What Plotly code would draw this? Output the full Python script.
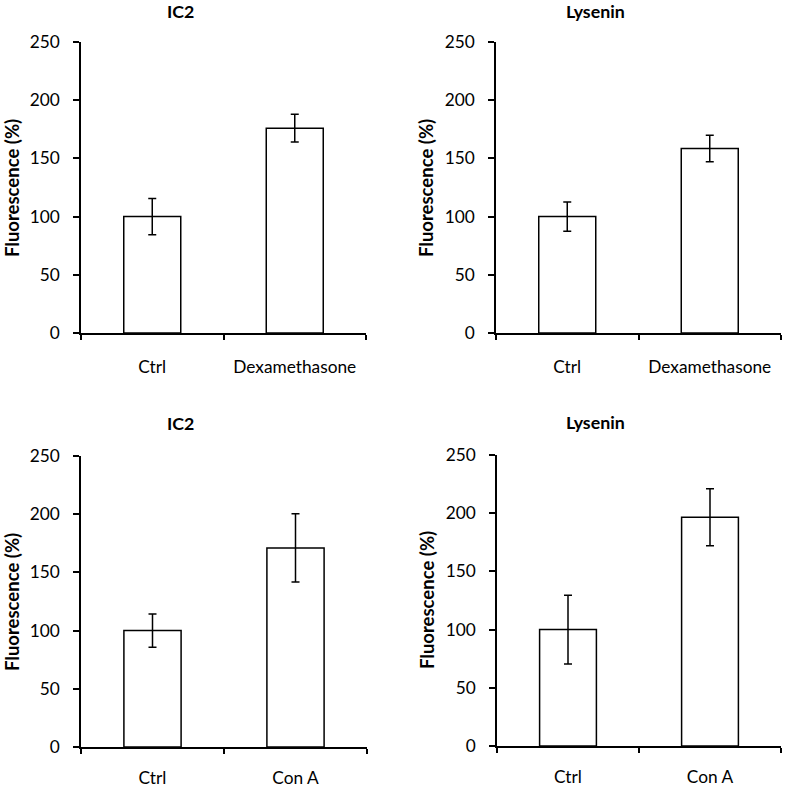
import plotly.graph_objects as go
from plotly.subplots import make_subplots

# ---- data ----
titles = ["IC2", "Lysenin", "IC2", "Lysenin"]
cats_dex = ["Ctrl", "Dexamethasone"]
cats_cona = ["Ctrl", "Con A"]
ic2_dex_mean = [100, 176]
ic2_dex_err = [15.6, 12.0]
lys_dex_mean = [100, 158.5]
lys_dex_err = [12.6, 11.3]
ic2_cona_mean = [100, 171]
ic2_cona_err = [14.3, 29.3]
lys_cona_mean = [100, 196.5]
lys_cona_err = [29.6, 24.4]
y_ticks = [0, 50, 100, 150, 200, 250]
y_title = "Fluorescence (%)"

W, H = 785, 787
FONT = "Lato"
FS = 17.3
FS_TITLE = 17.8
FS_YT = 18.5

panels = [
    (cats_dex, ic2_dex_mean, ic2_dex_err),
    (cats_dex, lys_dex_mean, lys_dex_err),
    (cats_cona, ic2_cona_mean, ic2_cona_err),
    (cats_cona, lys_cona_mean, lys_cona_err),
]

fig = make_subplots(rows=2, cols=2)

# pixel boxes (left, right, top, bottom)
boxes = [
    (81, 366, 42, 333),
    (496, 781, 42, 333),
    (81, 367, 456, 747),
    (497, 781, 455, 746),
]
title_pos = [(180, 11), (595, 11), (180, 423), (595, 422)]
ytitle_pos = [(12, 188), (426, 188), (12, 602), (427, 600)]
x_standoff = [17, 17, 14, 14]

for i, (cats, mean, err) in enumerate(panels):
    r, c = i // 2 + 1, i % 2 + 1
    fig.add_trace(
        go.Bar(
            x=cats, y=mean, width=0.4,
            marker=dict(color="white", line=dict(color="black", width=1.5)),
            error_y=dict(type="data", array=err, visible=True,
                         color="black", thickness=1.5, width=4),
            showlegend=False, hoverinfo="skip",
        ),
        row=r, col=c,
    )
    l, rr, t, b = boxes[i]
    xa = "xaxis" if i == 0 else f"xaxis{i+1}"
    ya = "yaxis" if i == 0 else f"yaxis{i+1}"
    fig.layout[xa].update(
        domain=[l / W, rr / W], range=[-0.5, 1.5], automargin=False,
        showline=True, linecolor="black", linewidth=1.5,
        ticks="outside", tickson="boundaries", ticklen=5, tickwidth=1.5,
        tickcolor="black", showgrid=False, zeroline=False,
        tickfont=dict(family=FONT, size=FS, color="black"),
        ticklabelstandoff=x_standoff[i],
    )
    fig.layout[ya].update(
        domain=[1 - b / H, 1 - t / H], range=[0, 250], automargin=False,
        tickvals=y_ticks,
        showline=True, linecolor="black", linewidth=1.5,
        ticks="outside", ticklen=6, tickwidth=1.5, tickcolor="black",
        showgrid=False, zeroline=False,
        tickfont=dict(family=FONT, size=FS, color="black"),
        ticklabelstandoff=10,
    )
    tx, ty = title_pos[i]
    fig.add_annotation(
        x=tx / W, y=1 - ty / H, xref="paper", yref="paper",
        text=f"<b>{titles[i]}</b>", showarrow=False,
        xanchor="center", yanchor="middle",
        font=dict(family=FONT, size=FS_TITLE, color="black"),
    )
    yx, yy = ytitle_pos[i]
    fig.add_annotation(
        x=yx / W, y=1 - yy / H, xref="paper", yref="paper",
        text=f"<b>{y_title}</b>", showarrow=False, textangle=-90,
        xanchor="center", yanchor="middle",
        font=dict(family=FONT, size=FS_YT, color="black"),
    )

fig.update_layout(
    width=W, height=H,
    margin=dict(l=0, r=0, t=0, b=0),
    paper_bgcolor="white", plot_bgcolor="white",
    bargap=0.6,
)

fig.write_html(
    "out.html",
    config={"displayModeBar": False},
    post_script="document.body.style.margin='0';document.body.style.overflow='hidden';",
)
